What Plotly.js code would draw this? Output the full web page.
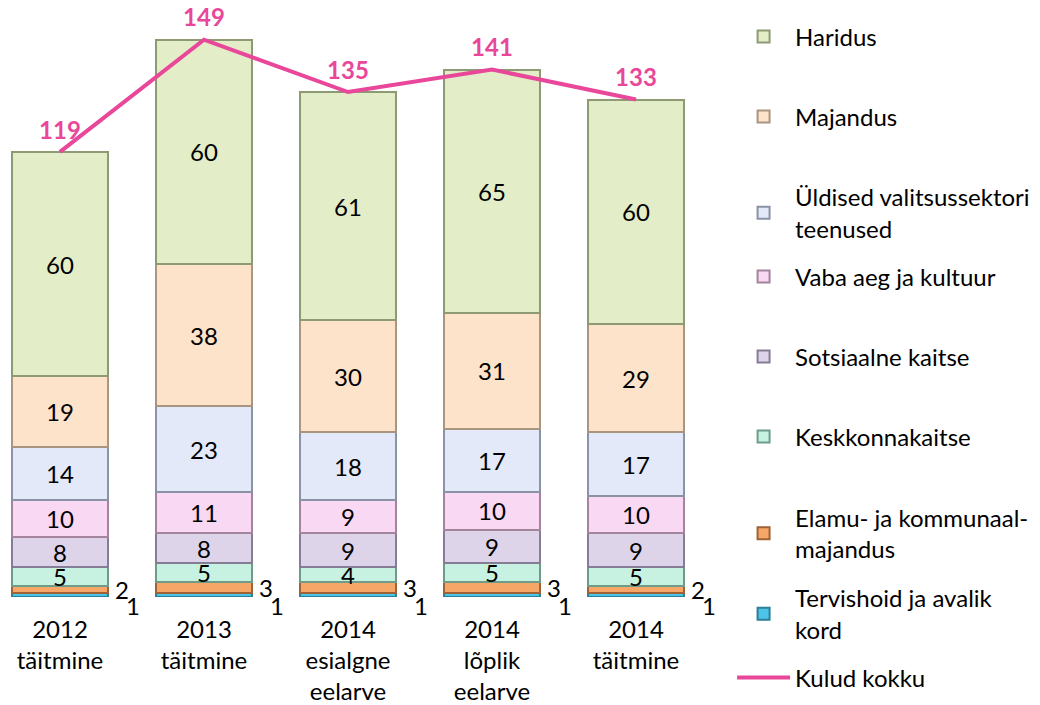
<!DOCTYPE html>
<html>
<head>
<meta charset="utf-8">
<script src="https://cdn.plot.ly/plotly-3.0.1.min.js"></script>
<style>html,body{margin:0;padding:0;background:#fff;}#chart{width:1040px;height:705px;}</style>
</head>
<body>
<div id="chart"></div>
<script>
// ---- data ----
const categories = ["2012<br>täitmine", "2013<br>täitmine", "2014<br>esialgne<br>eelarve", "2014<br>lõplik<br>eelarve", "2014<br>täitmine"];
const tervishoid = [1, 1, 1, 1, 1];
const elamu = [2, 3, 3, 3, 2];
const keskkond = [5, 5, 4, 5, 5];
const sotsiaalne = [8, 8, 9, 9, 9];
const vabaAeg = [10, 11, 9, 10, 10];
const yldised = [14, 23, 18, 17, 17];
const majandus = [19, 38, 30, 31, 29];
const haridus = [60, 60, 61, 65, 60];
const kuludKokku = [119, 149, 135, 141, 133];

const seriesNames = {
  haridus: "Haridus",
  majandus: "Majandus",
  yldised: "Üldised valitsussektori<br>teenused",
  vabaAeg: "Vaba aeg ja kultuur",
  sotsiaalne: "Sotsiaalne kaitse",
  keskkond: "Keskkonnakaitse",
  elamu: "Elamu- ja kommunaal-<br>majandus",
  tervishoid: "Tervishoid ja avalik<br>kord",
  kulud: "Kulud kokku"
};

// ---- styling ----
const FONT = "Lato, 'Open Sans', sans-serif";
const FS = 24;
const xs = categories.map((c, i) => i);

function barTrace(vals, name, fill, edge, legendId) {
  return {
    type: "bar",
    x: xs,
    y: vals,
    name: name,
    legend: legendId,
    text: vals.map(v => v >= 4 ? String(v) : ""),
    textposition: "inside",
    insidetextanchor: "middle",
    constraintext: "none",
    textangle: 0,
    textfont: {family: FONT, size: FS, color: "#000"},
    insidetextfont: {family: FONT, size: FS, color: "#000"},
    marker: {color: fill, line: {color: edge, width: 2}},
    hoverinfo: "name+y"
  };
}

const traces = [
  barTrace(tervishoid, seriesNames.tervishoid, "#4CC4EA", "#2D7F99", "legend8"),
  barTrace(elamu, seriesNames.elamu, "#F6A667", "#9E6236", "legend7"),
  barTrace(keskkond, seriesNames.keskkond, "#C7F1E0", "#6E9C8A", "legend6"),
  barTrace(sotsiaalne, seriesNames.sotsiaalne, "#DDD4EA", "#857C96", "legend5"),
  barTrace(vabaAeg, seriesNames.vabaAeg, "#F9D8F3", "#A2849C", "legend4"),
  barTrace(yldised, seriesNames.yldised, "#E3E9F8", "#8A92A6", "legend3"),
  barTrace(majandus, seriesNames.majandus, "#FCE3C9", "#A99580", "legend2"),
  barTrace(haridus, seriesNames.haridus, "#E3EDC7", "#8E9A74", "legend"),
  {
    type: "scatter",
    mode: "lines+markers+text",
    x: xs,
    y: kuludKokku,
    name: seriesNames.kulud,
    legend: "legend9",
    text: kuludKokku.map(v => "<b>" + v + "</b>"),
    textposition: "top center",
    textfont: {family: FONT, size: FS, color: "#E8479A"},
    line: {color: "#E8479A", width: 4},
    marker: {size: 10, color: "rgba(0,0,0,0)", line: {width: 0}},
    cliponaxis: false
  }
];

// labels for the thin bottom segments (placed beside the bars)
const annotations = [];
xs.forEach(i => {
  annotations.push({x: i, y: tervishoid[i] + elamu[i] / 2, text: String(elamu[i]), showarrow: false,
    xshift: 62, yshift: 0, font: {family: FONT, size: FS, color: "#000"}});
  annotations.push({x: i, y: tervishoid[i] / 2, text: String(tervishoid[i]), showarrow: false,
    xshift: 73, yshift: -10, font: {family: FONT, size: FS, color: "#000"}});
});

function leg(y) {
  return {x: 1.034, xanchor: "left", y: y, yanchor: "middle", bgcolor: "rgba(0,0,0,0)",
    borderwidth: 0, itemwidth: 53, font: {family: FONT, size: FS, color: "#000"}};
}

const PLOT_H = 597;
const py = p => (PLOT_H - p) / PLOT_H;

const layout = {
  width: 1040,
  height: 705,
  margin: {l: 0, r: 332, t: 0, b: 108},
  paper_bgcolor: "#fff",
  plot_bgcolor: "#fff",
  barmode: "stack",
  bargap: 0.34,
  font: {family: FONT, size: FS, color: "#000"},
  xaxis: {
    range: [-0.4167, 4.5],
    tickmode: "array",
    tickvals: xs,
    ticktext: categories,
    showgrid: false,
    zeroline: false,
    showline: false,
    ticks: "",
    ticklabelstandoff: 16,
    tickfont: {family: FONT, size: FS, color: "#000"},
    fixedrange: true
  },
  yaxis: {
    range: [0, 159.6],
    visible: false,
    showgrid: false,
    zeroline: false,
    fixedrange: true
  },
  showlegend: true,
  legend: leg(py(37)),
  legend2: leg(py(117)),
  legend3: leg(py(213)),
  legend4: leg(py(277)),
  legend5: leg(py(357)),
  legend6: leg(py(437)),
  legend7: leg(py(533.5)),
  legend8: leg(py(614)),
  legend9: leg(py(678)),
  annotations: annotations
};

Plotly.newPlot("chart", traces, layout, {displayModeBar: false, staticPlot: true});
</script>
</body>
</html>
